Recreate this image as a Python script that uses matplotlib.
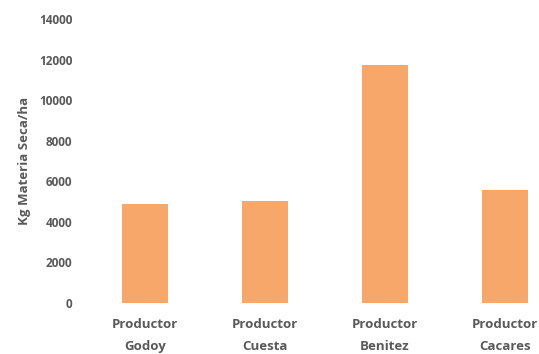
import matplotlib.pyplot as plt

productores = ['Productor\nGodoy', 'Productor\nCuesta', 'Productor\nBenitez', 'Productor\nCacares']
kg_ms = [4900, 5050, 11750, 5550]

plt.rcParams['font.family'] = ['Open Sans', 'DejaVu Sans']
gris = '#595959'

fig = plt.figure(figsize=(5.39, 3.54), dpi=100)
ax = fig.add_axes([85 / 539, 51 / 354, 480 / 539, 284 / 354])

ax.bar(range(len(productores)), kg_ms, width=0.38, color='#F7A769')
ax.set_xlim(-0.5, 3.5)
ax.set_ylim(0, 14000)
ax.set_yticks(range(0, 14001, 2000))
ax.set_xticks(range(len(productores)))
ax.set_xticklabels(productores, fontsize=9.5, fontweight='bold', color=gris, linespacing=1.9)
ax.tick_params(axis='y', labelsize=8.5, colors=gris, length=0, pad=9)
ax.tick_params(axis='x', length=0, pad=11)
for lbl in ax.get_yticklabels():
    lbl.set_fontweight('bold')
ax.set_ylabel('Kg Materia Seca/ha', fontsize=9.5, fontweight='bold', color=gris, labelpad=6)
for s in ax.spines.values():
    s.set_visible(False)

fig.savefig('out.png', dpi=100)
